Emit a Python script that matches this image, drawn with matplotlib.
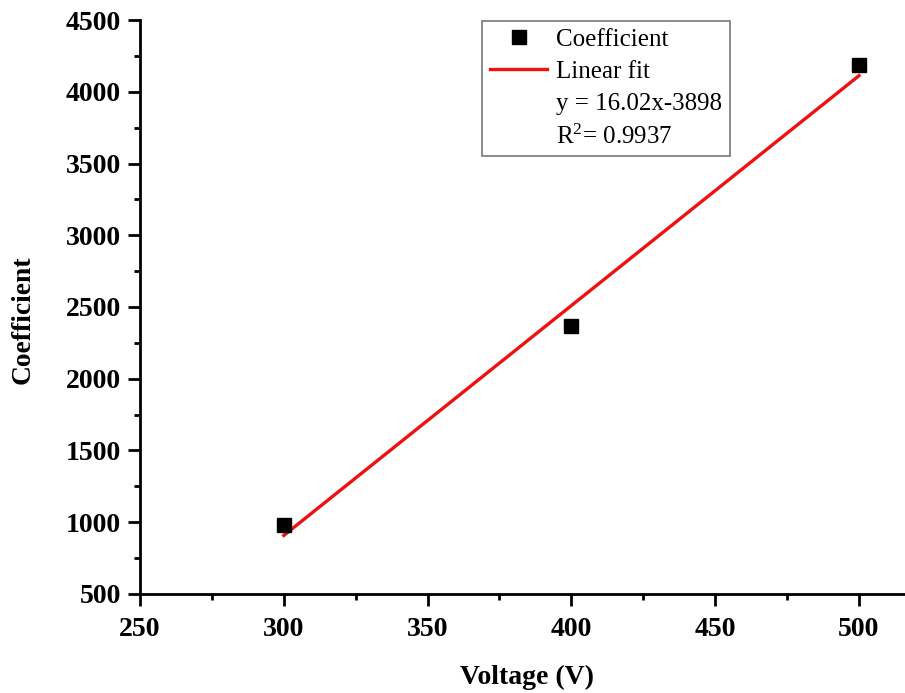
import matplotlib
matplotlib.use("Agg")
import matplotlib.pyplot as plt
from matplotlib.lines import Line2D
from matplotlib.ticker import MultipleLocator
import numpy as np

plt.rcParams["font.family"] = ["Liberation Serif", "DejaVu Serif"]
plt.rcParams["mathtext.fontset"] = "custom"
plt.rcParams["mathtext.rm"] = "Liberation Serif"
plt.rcParams["mathtext.it"] = "Liberation Serif:italic"

# Measured coefficient versus applied voltage
voltage = [300, 400, 500]
coefficient = [984, 2366, 4184]

# Linear fit reported for the data
slope = 16.02
intercept = -3898
r_squared = 0.9937

fig = plt.figure(figsize=(9.05, 6.93), dpi=100)
ax = fig.add_axes([0.1547, 0.1429, 0.8453, 0.8282])

fit_x = np.array([voltage[0], voltage[-1]])
fit_y = slope * fit_x + intercept

ax.plot(fit_x, fit_y, color="#ee1111", lw=2.4, zorder=2)
ax.plot(voltage, coefficient, ls="none", marker="s", ms=10, color="black", zorder=3)

ax.set_xlim(250, 516)
ax.set_ylim(500, 4500)
ax.xaxis.set_major_locator(MultipleLocator(50))
ax.xaxis.set_minor_locator(MultipleLocator(25))
ax.yaxis.set_major_locator(MultipleLocator(500))
ax.yaxis.set_minor_locator(MultipleLocator(250))

for side in ("top", "right"):
    ax.spines[side].set_visible(False)
for side in ("left", "bottom"):
    ax.spines[side].set_linewidth(2)

ax.tick_params(which="major", direction="out", length=8.6, width=2, labelsize=20)
ax.tick_params(axis="x", which="major", pad=8)
ax.tick_params(axis="y", which="major", pad=5)
ax.tick_params(which="minor", direction="out", length=4.3, width=2)
for lab in ax.get_xticklabels() + ax.get_yticklabels():
    lab.set_fontweight("bold")

ax.set_xlabel("Voltage (V)", fontsize=20, fontweight="bold")
ax.set_ylabel("Coefficient", fontsize=19.8, fontweight="bold")
ax.xaxis.set_label_coords(0.506, -0.124)
ax.yaxis.set_label_coords(-0.136, 0.477)

handles = [
    Line2D([], [], ls="none", marker="s", ms=10, color="black"),
    Line2D([], [], color="#ee1111", lw=2.4),
    Line2D([], [], ls="none"),
    Line2D([], [], ls="none"),
]
labels = [
    "Coefficient",
    "Linear fit",
    f"y = {slope:.2f}x{intercept:d}",
    f"R$^2$= {r_squared:.4f}",
]
leg = ax.legend(handles, labels, loc="upper left", bbox_to_anchor=(0.4475, 0.9985),
                fontsize=18, frameon=True, fancybox=False, edgecolor="#555555",
                handlelength=2.3, handletextpad=0.35, labelspacing=0.38,
                borderpad=0.3, borderaxespad=0)
leg.get_frame().set_linewidth(1.2)

fig.savefig("out.png", dpi=100)
